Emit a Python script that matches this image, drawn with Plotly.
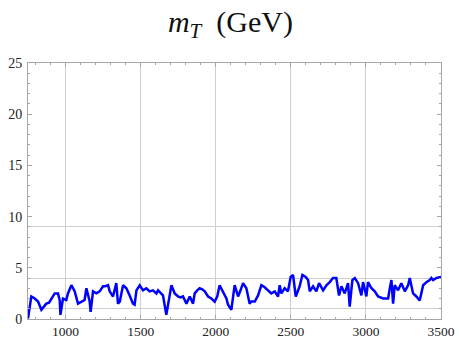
import plotly.graph_objects as go

mass_gev = [750, 772, 795, 817, 839, 860, 872, 890, 905, 928, 950, 961, 966, 983,
            1005, 1016, 1039, 1061, 1083, 1105, 1127, 1139, 1161, 1167, 1183, 1205,
            1227, 1250, 1265, 1283, 1294, 1316, 1338, 1349, 1361, 1383, 1405, 1427,
            1449, 1460, 1472, 1494, 1516, 1538, 1560, 1582, 1605, 1616, 1632, 1649,
            1671, 1690, 1705, 1727, 1749, 1765, 1782, 1805, 1827, 1849, 1860, 1877,
            1893, 1910, 1927, 1949, 1971, 1993, 2010, 2026, 2049, 2071, 2082, 2104,
            2126, 2149, 2165, 2182, 2204, 2226, 2237, 2260, 2282, 2304, 2326, 2348,
            2370, 2393, 2415, 2426, 2437, 2459, 2481, 2499, 2515, 2533, 2548, 2559,
            2577, 2599, 2615, 2626, 2648, 2670, 2688, 2715, 2737, 2759, 2781, 2803,
            2821, 2837, 2859, 2881, 2892, 2910, 2926, 2948, 2970, 2981, 3003, 3014,
            3037, 3059, 3081, 3098, 3114, 3131, 3148, 3159, 3170, 3181, 3192, 3214,
            3236, 3259, 3281, 3292, 3314, 3336, 3347, 3358, 3369, 3381, 3403, 3425,
            3436, 3447, 3470, 3492, 3500]

mt_value = [0.05, 2.2, 2.0, 1.7, 0.9, 1.3, 1.5, 1.6, 2.0, 2.5, 2.5, 1.85, 0.4, 2.0,
            1.85, 2.5, 3.3, 2.7, 1.5, 1.7, 1.85, 3.0, 1.7, 0.7, 2.7, 2.5,
            2.7, 3.2, 3.2, 3.3, 2.7, 2.2, 3.5, 1.5, 1.7, 3.3, 3.0, 2.3,
            1.5, 1.4, 2.8, 3.3, 2.8, 3.0, 2.7, 2.8, 2.5, 2.8, 2.6, 2.3,
            0.4, 2.0, 3.3, 2.5, 2.2, 2.1, 2.2, 1.5, 2.2, 1.5, 2.5, 2.8,
            3.0, 2.9, 2.7, 2.2, 2.0, 1.7, 2.2, 3.3, 2.7, 2.0, 1.4, 0.9,
            3.3, 2.2, 2.8, 3.5, 3.0, 1.5, 1.7, 1.7, 2.3, 3.3, 3.1, 2.8,
            2.5, 2.7, 2.2, 3.3, 2.5, 3.0, 2.7, 4.1, 4.3, 2.2, 2.7, 3.2,
            4.3, 4.1, 3.8, 2.7, 3.2, 2.7, 3.5, 2.8, 3.3, 3.6, 4.0, 4.0,
            2.3, 3.2, 2.5, 3.5, 1.2, 3.8, 4.0, 3.5, 2.3, 3.6, 2.2, 3.6,
            3.0, 2.7, 2.2, 2.1, 2.0, 2.0, 2.0, 3.0, 3.8, 1.5, 3.3, 2.8,
            3.5, 2.7, 3.3, 4.0, 2.5, 2.2, 2.0, 1.8, 2.5, 3.3, 3.6, 3.8,
            4.0, 3.8, 4.0, 4.1, 4.1]

x_ticks = [1000, 1500, 2000, 2500, 3000, 3500]
y_ticks = [0, 5, 10, 15, 20, 25]
y_grid_lines = [1, 4, 9]

tick_font = dict(family="Liberation Serif", size=14, color="#222222")
x_tick_font = dict(family="Liberation Serif", size=13.5, color="#222222")
frame = "#a6a6a6"
grid = "#cfcfcf"

fig = go.Figure()
fig.add_trace(go.Scatter(x=mass_gev, y=mt_value, mode="lines",
                         line=dict(color="#0000ff", width=2.5), showlegend=False))
# helper trace to host the custom horizontal grid axis
fig.add_trace(go.Scatter(x=[mass_gev[0]], y=[0], yaxis="y2", mode="markers",
                         marker=dict(opacity=0), showlegend=False, hoverinfo="skip"))

fig.update_layout(
    width=459, height=338,
    margin=dict(l=28, r=18, t=63, b=19),
    paper_bgcolor="white", plot_bgcolor="white",
    title=dict(text="<i>m</i><sub><i>T</i></sub>  (GeV)", x=0.502, xanchor="center",
               y=1 - 21 / 338, yanchor="middle",
               font=dict(family="Liberation Serif", size=30, color="#111111")),
    xaxis=dict(range=[750, 3500], tickvals=x_ticks, ticktext=[str(v) for v in x_ticks],
               automargin=False,
               showgrid=True, gridcolor=grid, gridwidth=1, zeroline=False,
               showline=True, linecolor=frame, linewidth=1, mirror="ticks",
               ticks="inside", ticklen=4, tickcolor=frame,
               minor=dict(dtick=100, tick0=0, ticks="inside", ticklen=2, tickcolor=frame,
                          showgrid=False),
               tickfont=x_tick_font, ticklabelstandoff=0),
    yaxis=dict(range=[0, 25], tickvals=y_ticks, ticktext=[str(v) for v in y_ticks],
               automargin=False,
               showgrid=False, zeroline=False,
               showline=True, linecolor=frame, linewidth=1, mirror="ticks",
               ticks="inside", ticklen=4, tickcolor=frame,
               minor=dict(dtick=1, tick0=0, ticks="inside", ticklen=2, tickcolor=frame),
               tickfont=tick_font, ticklabelstandoff=2),
    yaxis2=dict(range=[0, 25], overlaying="y", tickvals=y_grid_lines, showgrid=True,
                automargin=False,
                gridcolor=grid, gridwidth=1, showticklabels=False, ticks="",
                zeroline=False, showline=False, layer="below traces"),
)

# remove the browser's default 8px body margin so the figure fills the window
fig.write_html("out.html",
               config={"displayModeBar": False},
               post_script="document.body.style.margin='0px';document.body.style.overflow='hidden';")
